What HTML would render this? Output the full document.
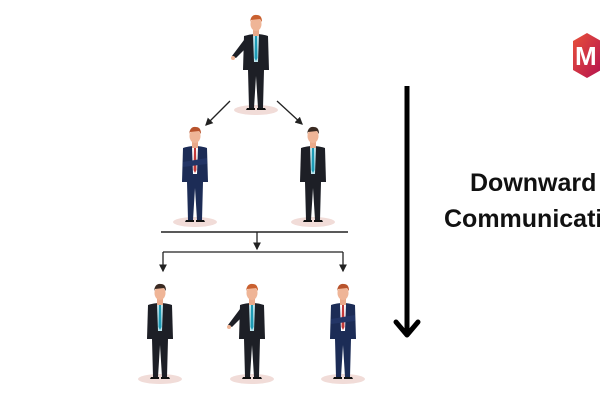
<!DOCTYPE html>
<html><head><meta charset="utf-8"><style>
html,body{margin:0;padding:0;background:#fff;}
svg{display:block}
</style></head><body>
<svg width="600" height="400" viewBox="0 0 600 400" xmlns="http://www.w3.org/2000/svg">
<defs>
<linearGradient id="lg" x1="0" y1="0" x2="1" y2="1"><stop offset="0" stop-color="#e8513a"/><stop offset="1" stop-color="#b5124f"/></linearGradient>
<marker id="ah" markerWidth="6" markerHeight="6" refX="5" refY="3" orient="auto"><path d="M0,0 L6,3 L0,6 z" fill="#222"/></marker>
<g id="pb">
<ellipse cx="0" cy="92" rx="22" ry="5" fill="#f1dcd8"/>
<path d="M-8,52 L-7,90 L-2,90 L0,58 L2,90 L7,90 L8,52 z" fill="#1d1f26"/>
<path d="M-12,18 Q0,14 12,18 L13,52 L-13,52 z" fill="#1d1f26"/>
<path d="M-3,17 L3,17 L2,44 L-2,44 z" fill="#bfe4ec"/>
<path d="M-1,18 L1,18 L1.5,40 L0,43 L-1.5,40 z" fill="#1e9bb5"/>
<rect x="-3" y="10" width="6" height="8" fill="#e9a98a"/>
<ellipse cx="0" cy="6" rx="5.5" ry="7" fill="#efb597"/>
<path d="M-6,4 Q-5,-4 1,-3 Q6,-3 6,4 L4,1 L-5,2 z" fill="#3a2a22"/>
<path d="M-9,90 h8 v2 h-9 z M1,90 h8 l1,2 h-9 z" fill="#111"/>
</g>
<g id="pn">
<ellipse cx="0" cy="92" rx="22" ry="5" fill="#f1dcd8"/>
<path d="M-8,52 L-7,90 L-2,90 L0,58 L2,90 L7,90 L8,52 z" fill="#1c2c56"/>
<path d="M-12,18 Q0,14 12,18 L13,52 L-13,52 z" fill="#1c2c56"/>
<path d="M-3,17 L3,17 L2,44 L-2,44 z" fill="#fff"/>
<path d="M-1,18 L1,18 L1.5,40 L0,43 L-1.5,40 z" fill="#c23a3a"/>
<path d="M-12,32 L12,28 L12,34 L-12,37 z" fill="#233566"/>
<rect x="-3" y="10" width="6" height="8" fill="#e9a98a"/>
<ellipse cx="0" cy="6" rx="5.5" ry="7" fill="#efb597"/>
<path d="M-6,4 Q-5,-4 1,-3 Q6,-3 6,4 L4,1 L-5,2 z" fill="#b8532c"/>
<path d="M-9,90 h8 v2 h-9 z M1,90 h8 l1,2 h-9 z" fill="#111"/>
</g>
<g id="pr">
<ellipse cx="0" cy="92" rx="22" ry="5" fill="#f1dcd8"/>
<path d="M-8,52 L-7,90 L-2,90 L0,58 L2,90 L7,90 L8,52 z" fill="#1d1f26"/>
<path d="M-12,18 Q0,14 12,18 L13,52 L-13,52 z" fill="#1d1f26"/>
<path d="M-12,22 L-24,38 L-20,40 L-10,30 z" fill="#1d1f26"/>
<circle cx="-23" cy="40" r="2" fill="#efb597"/>
<path d="M-3,17 L3,17 L2,44 L-2,44 z" fill="#bfe4ec"/>
<path d="M-1,18 L1,18 L1.5,40 L0,43 L-1.5,40 z" fill="#1e9bb5"/>
<rect x="-3" y="10" width="6" height="8" fill="#e9a98a"/>
<ellipse cx="0" cy="6" rx="5.5" ry="7" fill="#efb597"/>
<path d="M-6,4 Q-5,-4 1,-3 Q6,-3 6,4 L4,1 L-5,2 z" fill="#c9602f"/>
<path d="M-9,90 h8 v2 h-9 z M1,90 h8 l1,2 h-9 z" fill="#111"/>
</g>
</defs>
<use href="#pr" x="256" y="18"/>
<use href="#pn" x="195" y="130"/>
<use href="#pb" x="313" y="130"/>
<use href="#pb" x="160" y="287"/>
<use href="#pr" x="252" y="287"/>
<use href="#pn" x="343" y="287"/>
<g stroke="#222" stroke-width="1.3" fill="none">
<line x1="230" y1="101" x2="206" y2="125" marker-end="url(#ah)"/>
<line x1="277" y1="101" x2="302" y2="124" marker-end="url(#ah)"/>
<line x1="161" y1="232" x2="348" y2="232" stroke-width="1.6"/>
<line x1="257" y1="232" x2="257" y2="249" marker-end="url(#ah)"/>
<line x1="163" y1="252" x2="343" y2="252"/>
<line x1="163" y1="252" x2="163" y2="271" marker-end="url(#ah)"/>
<line x1="343" y1="252" x2="343" y2="271" marker-end="url(#ah)"/>
</g>
<line x1="407" y1="86" x2="407" y2="334" stroke="#000" stroke-width="5"/>
<path d="M396,322 L407,335 L418,322" stroke="#000" stroke-width="5" fill="none" stroke-linecap="round" stroke-linejoin="round"/>
<polygon points="587,33 601,41 601,70 587,78 573,70 573,41" fill="url(#lg)"/>
<text x="575" y="65" font-family="Liberation Sans, sans-serif" font-weight="bold" font-size="26" fill="#fff">M</text>
<text x="470" y="191" font-family="Liberation Sans, sans-serif" font-weight="bold" font-size="25" fill="#111">Downward</text>
<text x="444" y="227" font-family="Liberation Sans, sans-serif" font-weight="bold" font-size="25" fill="#111">Communication</text>
</svg>
</body></html>
